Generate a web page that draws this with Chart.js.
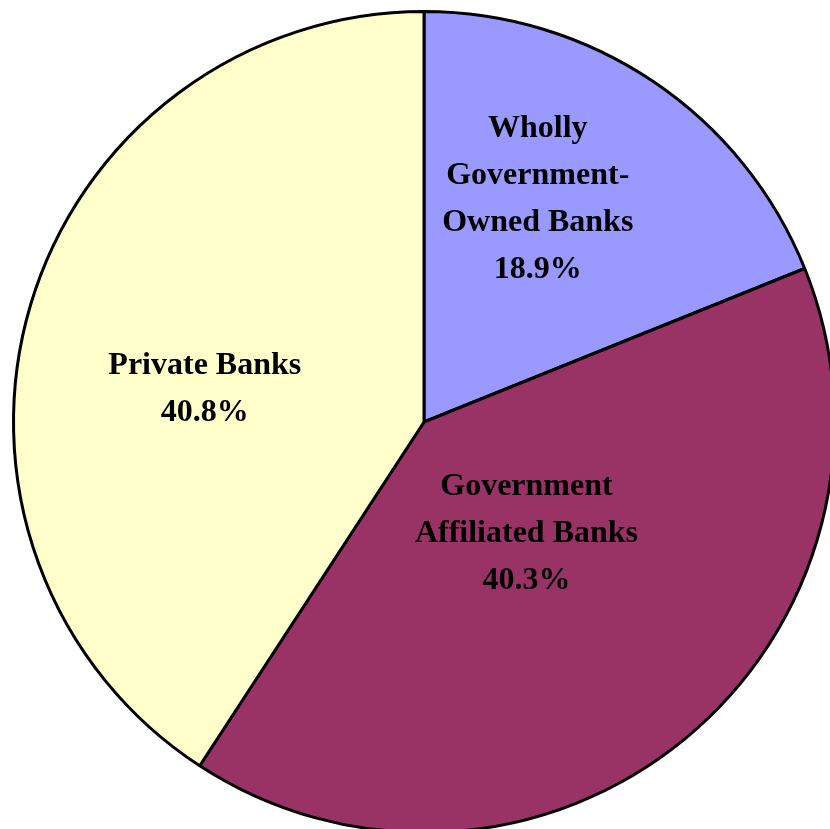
<!DOCTYPE html>
<html>
<head>
<meta charset="utf-8">
<script src="https://cdn.jsdelivr.net/npm/chart.js@4.4.0/dist/chart.umd.min.js"></script>
<style>
  html, body { margin: 0; padding: 0; background: #fff; overflow: hidden; }
  #wrap { position: absolute; left: 0; top: 0; width: 848px; height: 844px; }
</style>
</head>
<body>
<div id="wrap"><canvas id="bankChart"></canvas></div>
<script>
const categories = [['Wholly', 'Government-', 'Owned Banks'], ['Government', 'Affiliated Banks'], ['Private Banks']];
const shares = [18.9, 40.3, 40.8];
const sliceColors = ['#9999FF', '#993366', '#FFFFCC'];

// where each label sits: fraction of radius, angle shift in degrees
const labelSpots = [[0.61, -7], [0.37, -3], [0.54, -8]];

const labelPlugin = {
  id: 'sliceLabels',
  afterDatasetsDraw(chart) {
    const ctx = chart.ctx;
    const meta = chart.getDatasetMeta(0);
    ctx.save();
    ctx.font = 'bold 32px "Liberation Serif", "Times New Roman", serif';
    ctx.fillStyle = '#000';
    ctx.textAlign = 'center';
    ctx.textBaseline = 'middle';
    meta.data.forEach((arc, i) => {
      const mid = (arc.startAngle + arc.endAngle) / 2 + labelSpots[i][1] * Math.PI / 180;
      const r = arc.outerRadius * labelSpots[i][0];
      const x = arc.x + Math.cos(mid) * r;
      const y = arc.y + Math.sin(mid) * r;
      const lines = categories[i].concat([shares[i].toFixed(1) + '%']);
      const lh = 47;
      const top = y - (lines.length - 1) * lh / 2;
      lines.forEach((t, k) => ctx.fillText(t, x, top + k * lh));
    });
    ctx.restore();
  }
};

new Chart(document.getElementById('bankChart'), {
  type: 'pie',
  data: {
    labels: categories.map(c => c.join(' ')),
    datasets: [{
      data: shares,
      backgroundColor: sliceColors,
      borderColor: '#000',
      borderWidth: 3
    }]
  },
  options: {
    responsive: true,
    maintainAspectRatio: false,
    animation: false,
    layout: { padding: { left: 12, right: 12, top: 10, bottom: 10 } },
    plugins: {
      legend: { display: false },
      tooltip: { enabled: false }
    }
  },
  plugins: [labelPlugin]
});
</script>
</body>
</html>
